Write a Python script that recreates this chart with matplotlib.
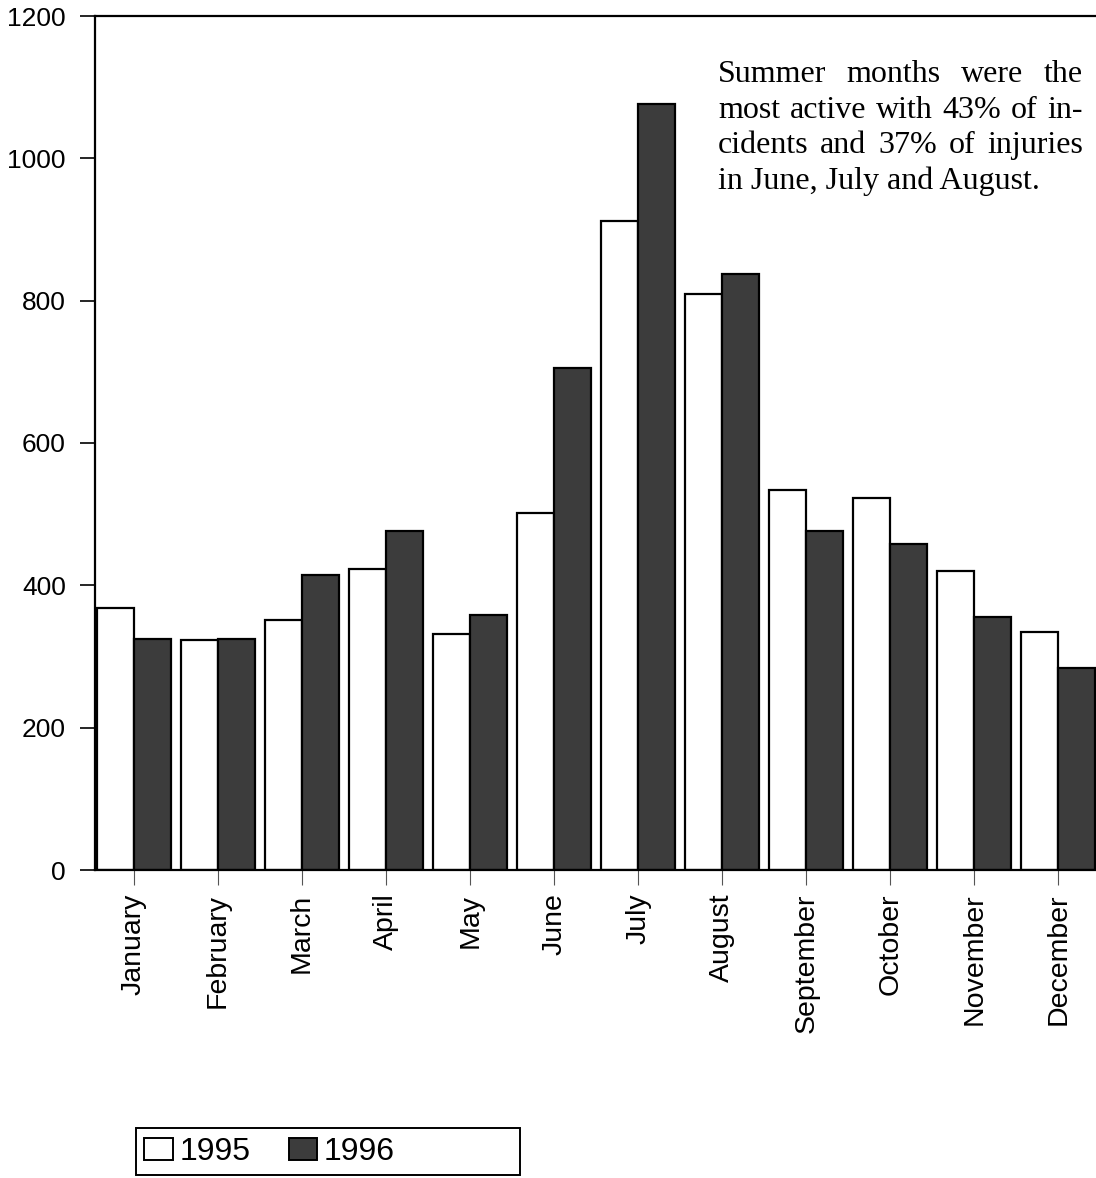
import matplotlib
import matplotlib.pyplot as plt
import numpy as np
from matplotlib.patches import Patch, Rectangle

matplotlib.use('agg', force=True)

months = ["January", "February", "March", "April", "May", "June", "July",
          "August", "September", "October", "November", "December"]
incidents_1995 = [368, 323, 351, 423, 332, 501, 912, 810, 534, 523, 420, 335]
incidents_1996 = [324, 324, 414, 476, 358, 706, 1077, 837, 476, 458, 356, 284]
y_ticks = [0, 200, 400, 600, 800, 1000, 1200]

note_lines = ["Summer months were the",
              "most active with 43% of in-",
              "cidents and 37% of injuries",
              "in June, July and August."]

FACE_95 = "white"
FACE_96 = "#3c3c3c"

fig = plt.figure(figsize=(10.96, 11.78), dpi=100)
ax = fig.add_axes([95 / 1096, 1 - 870 / 1178, 1 - 95 / 1096 + 0.001, (870 - 16) / 1178])

x = np.arange(len(months))
w = 0.44
ax.bar(x - w / 2, incidents_1995, w, color=FACE_95, edgecolor="black", linewidth=1.6)
ax.bar(x + w / 2, incidents_1996, w, color=FACE_96, edgecolor="black", linewidth=1.6)

ax.set_xlim(-0.464, 11.46)
ax.set_ylim(0, 1200)
ax.set_yticks(y_ticks)
ax.set_xticks(x)
ax.set_xticklabels(months, rotation=90, fontsize=20.5, family="Liberation Sans")
for lbl in ax.get_yticklabels():
    lbl.set_fontsize(19)
    lbl.set_family("Liberation Sans")
ax.tick_params(axis="y", direction="out", length=11, width=1.2, pad=10)
ax.tick_params(axis="x", direction="out", length=11, width=0.8, pad=6,
               color="#555555")
for s in ax.spines.values():
    s.set_linewidth(1.6)
ax.spines["right"].set_visible(False)

# justified note in the upper right
fig.canvas.draw()
renderer = fig.canvas.get_renderer()
left_px, right_px = 718, 1083
top_px = 60
line_h = 35.5
note_font = dict(family="Liberation Serif", fontsize=23)
for i, line in enumerate(note_lines):
    y_fig = 1 - (top_px + i * line_h) / 1178
    words = line.split(" ")
    if i == len(note_lines) - 1:
        fig.text(left_px / 1096, y_fig, line, va="top", ha="left", **note_font)
        continue
    widths = []
    for wd in words:
        t = fig.text(0, 0, wd, **note_font)
        widths.append(t.get_window_extent(renderer).width)
        t.remove()
    gap = (right_px - left_px - sum(widths)) / (len(words) - 1)
    pos = left_px
    for wd, wdth in zip(words, widths):
        fig.text(pos / 1096, y_fig, wd, va="top", ha="left", **note_font)
        pos += wdth + gap

# legend in a wide frame below the chart
fig.patches.append(Rectangle((136 / 1096, 1 - 1175 / 1178), (520 - 136) / 1096, 47 / 1178,
                             transform=fig.transFigure, facecolor="none",
                             edgecolor="black", linewidth=1.4))
handles = [Patch(facecolor=FACE_95, edgecolor="black", linewidth=1.4, label="1995"),
           Patch(facecolor=FACE_96, edgecolor="black", linewidth=1.4, label="1996")]
fig.legend(handles=handles, loc="center left", ncol=2, frameon=False,
           bbox_to_anchor=(141 / 1096, 1 - 1152 / 1178),
           prop={"family": "Liberation Sans", "size": 23},
           handlelength=0.9, handleheight=0.7, handletextpad=0.2,
           columnspacing=1.2, borderpad=0.1, borderaxespad=0)

fig.savefig("out.png", dpi=100)
